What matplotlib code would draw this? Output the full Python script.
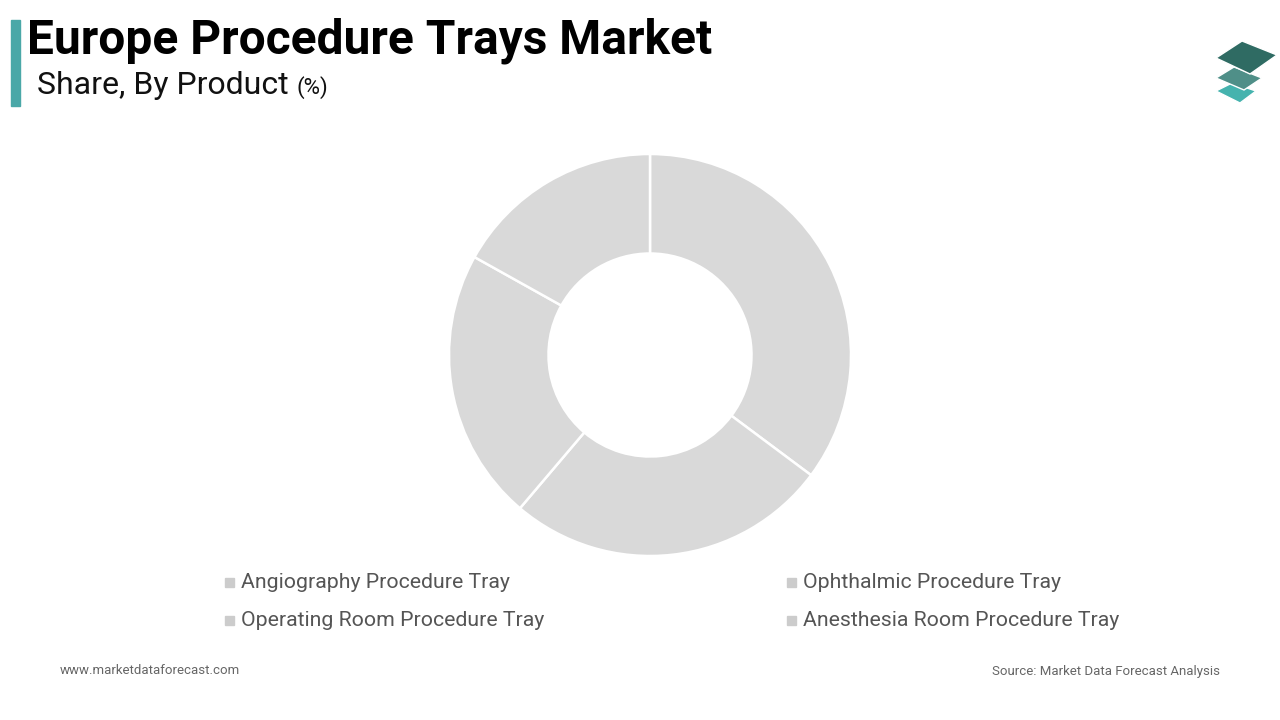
import matplotlib
matplotlib.use("Agg")

import matplotlib.pyplot as plt
from matplotlib.patches import Polygon, Rectangle

# --- Data ---
products = ["Angiography Procedure Tray", "Ophthalmic Procedure Tray",
            "Operating Room Procedure Tray", "Anesthesia Room Procedure Tray"]
shares = [35.2, 26.0, 21.9, 16.9]

title = "Europe Procedure Trays Market"
subtitle = "Share, By Product"
footer_left = "www.marketdataforecast.com"
footer_right = "Source: Market Data Forecast Analysis"

W, H = 1280, 720
plt.rcParams["font.family"] = ["Roboto", "DejaVu Sans"]

fig = plt.figure(figsize=(W / 100, H / 100), dpi=100)
fig.patch.set_facecolor("white")


def fx(px):
    return px / W


def fy(py):
    return 1 - py / H


# --- Header ---
fig.patches.append(Rectangle((fx(11), fy(106)), fx(9), (106 - 20) / H,
                             transform=fig.transFigure, color="#4aa8a8"))
fig.text(fx(27), fy(53), title, fontsize=34.5, fontweight="bold",
         color="black", va="baseline", ha="left")
sub = fig.text(fx(37), fy(94), subtitle, fontsize=23, color="#111111",
               va="baseline", ha="left")
renderer = fig.canvas.get_renderer()
bb = sub.get_window_extent(renderer=renderer)
fig.text(fx(bb.x1 + 8), fy(94), "(%)", fontsize=16, color="#111111",
         va="baseline", ha="left")

# --- Logo (stacked tiles) ---
tiles = [
    ([(1216, 91), (1232, 83), (1256, 91), (1240, 103)], "#45b3ae"),
    ([(1216, 78), (1234, 67), (1262, 78), (1244, 90)], "#4f8f88"),
    ([(1216, 58), (1242, 41), (1277, 55), (1250, 74)], "#2f6b63"),
]
for pts, col in tiles:
    fig.patches.append(Polygon([(fx(x), fy(y)) for x, y in pts], closed=True,
                               transform=fig.transFigure, facecolor=col,
                               edgecolor="white", linewidth=1.0))

# --- Donut ---
cx, cy, r = 650, 355, 201
ax = fig.add_axes([fx(cx - r), fy(cy + r), 2 * r / W, 2 * r / H])
ax.pie(shares, startangle=90, counterclock=False, radius=1,
       colors=["#d9d9d9"] * len(shares),
       wedgeprops=dict(width=0.495, edgecolor="white", linewidth=1.8))
ax.set_xlim(-1, 1)
ax.set_ylim(-1, 1)
ax.set_aspect("equal")
ax.axis("off")

# --- Legend (2 columns, row-major) ---
col_x = [225, 787]
row_y = [582, 620]
for i, name in enumerate(products):
    x = col_x[i % 2]
    y = row_y[i // 2]
    fig.patches.append(Rectangle((fx(x), fy(y + 5)), fx(9), 9 / H,
                                 transform=fig.transFigure, color="#cccccc"))
    fig.text(fx(x + 16), fy(y), name, fontsize=15.3, color="#555555",
             va="center", ha="left")

# --- Footer ---
fig.text(fx(60), fy(671), footer_left, fontsize=9.5, color="#666666",
         va="center", ha="left")
fig.text(fx(1220), fy(671), footer_right, fontsize=9.5, color="#666666",
         va="center", ha="right")

fig.savefig("out.png", dpi=100, facecolor="white")
